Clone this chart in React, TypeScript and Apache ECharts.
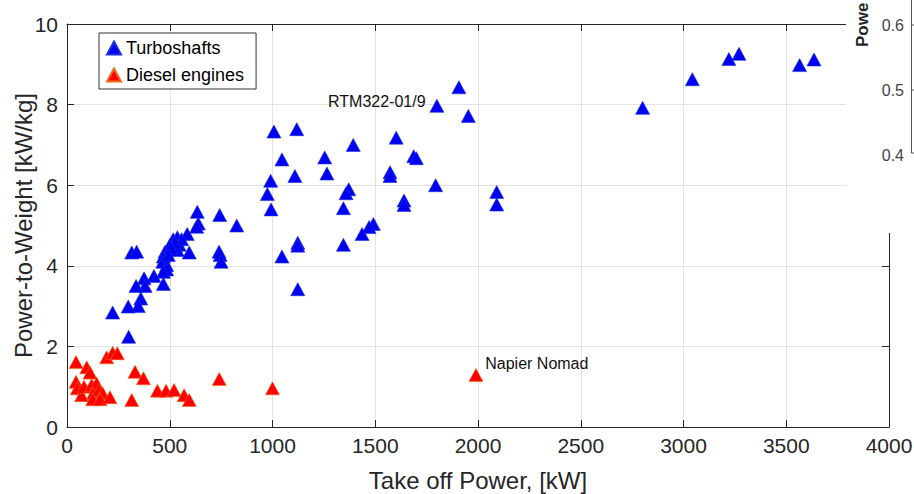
import React, { useEffect, useRef } from "react";
import * as echarts from "echarts";

// Take-off power [kW], power-to-weight [kW/kg]
const turboshaftPower = [
  1907, 1800, 1953, 1007, 1118, 1393, 1602, 1046, 1254, 1687, 1700, 1109, 1265, 1572, 1572,
  991, 975, 1794, 1371, 1358, 993, 1345, 2091, 2091, 1640, 1640, 1491, 1470, 1436, 1123,
  1123, 1345, 1046, 1123,
  2801, 3043, 3221, 3270, 3565, 3635,
  634, 743, 826, 639, 631, 585, 517, 537, 558, 546, 501, 537, 595, 740, 745, 750, 477, 469,
  466, 485, 485, 469, 423, 375, 380, 336, 469, 359, 347, 298, 315, 339, 222, 300, 525, 505, 493,
];
const turboshaftPW = [
  8.43, 7.97, 7.72, 7.33, 7.39, 7.0, 7.18, 6.64, 6.69, 6.72, 6.67, 6.23, 6.29, 6.32, 6.23,
  6.11, 5.78, 6.0, 5.9, 5.8, 5.4, 5.43, 5.83, 5.52, 5.62, 5.51, 5.04, 4.96, 4.79, 4.57,
  4.5, 4.52, 4.23, 3.42,
  7.92, 8.63, 9.13, 9.26, 8.98, 9.12,
  5.34, 5.26, 5.0, 5.05, 4.97, 4.79, 4.66, 4.71, 4.66, 4.52, 4.52, 4.39, 4.33, 4.35, 4.27, 4.1, 4.35, 4.23,
  4.1, 4.02, 3.91, 3.85, 3.75, 3.69, 3.5, 3.5, 3.55, 3.19, 3.0, 2.99, 4.33, 4.35, 2.84, 2.24, 4.58, 4.45, 4.27,
];
const dieselPower = [
  44, 193, 222, 245, 96, 112, 331, 372, 44, 50, 71, 83, 120, 144, 128, 157, 173, 125, 161,
  209, 315, 440, 482, 521, 570, 595, 741, 1000, 1990,
];
const dieselPW = [
  1.61, 1.73, 1.84, 1.83, 1.48, 1.35, 1.37, 1.21, 1.12, 0.96, 0.79, 1.0, 1.04, 1.08, 0.84, 0.92, 0.84, 0.69, 0.69,
  0.74, 0.67, 0.9, 0.9, 0.92, 0.79, 0.67, 1.19, 0.96, 1.29,
];
const seriesNames = ["Turboshafts", "Diesel engines"];
const xTicks = { min: 0, max: 4000, interval: 500 };
const yTicks = { min: 0, max: 10, interval: 2 };
const insetTickLabels = ["0.6", "0.5", "0.4"];
const rtmLabel = "RTM322-01/9";
const napierLabel = "Napier Nomad";

const FONT = "'Liberation Sans', Arial, Helvetica, sans-serif";

export default function App() {
  const ref = useRef<HTMLDivElement>(null);
  useEffect(() => {
    if (!ref.current) return;
    const chart = echarts.init(ref.current, undefined, { renderer: "svg" });

    const turboData = turboshaftPower.map((p, i) => {
      const item: any = { value: [p, turboshaftPW[i]] };
      if (p === 1800 && turboshaftPW[i] === 7.97) {
        item.label = {
          show: true,
          formatter: rtmLabel,
          position: "left",
          distance: 4,
          offset: [0, -4],
          fontSize: 16,
          color: "#111",
          fontFamily: FONT,
        };
      }
      return item;
    });
    const dieselData = dieselPower.map((p, i) => {
      const item: any = { value: [p, dieselPW[i]] };
      if (p === 1990) {
        item.label = {
          show: true,
          formatter: napierLabel,
          position: "right",
          distance: 2,
          offset: [0, -12],
          fontSize: 16,
          color: "#111",
          fontFamily: FONT,
        };
      }
      return item;
    });

    const mkLine = () => ({ show: true, onZero: false, lineStyle: { color: "#262626", width: 1 } });
    const mkTicks = () => ({ show: true, inside: true, length: 7, lineStyle: { color: "#262626", width: 1 } });
    const fmt = (v: number) => String(v);

    chart.setOption({
      animation: false,
      textStyle: { fontFamily: FONT },
      grid: { left: 67, right: 25, top: 24, bottom: 67, containLabel: false, outerBoundsMode: "none" },
      legend: {
        data: seriesNames.map((n) => ({ name: n, icon: "triangle" })),
        orient: "vertical",
        left: 99,
        top: 33,
        borderColor: "#333",
        borderWidth: 1,
        padding: [6, 12, 5, 7],
        itemWidth: 14,
        itemHeight: 13,
        itemGap: 9,
        textStyle: { fontSize: 18, color: "#000", fontFamily: FONT },
        backgroundColor: "#fff",
      },
      xAxis: [
        {
          type: "value",
          ...xTicks,
          name: "Take off Power, [kW]",
          nameLocation: "middle",
          nameGap: 41,
          nameTextStyle: { fontSize: 24, color: "#262626", fontFamily: FONT },
          axisLine: mkLine(),
          axisTick: mkTicks(),
          axisLabel: { fontSize: 21, color: "#262626", margin: 8, fontFamily: FONT, formatter: fmt },
          splitLine: { show: true, lineStyle: { color: "#e3e3e3", width: 1 } },
        },
        {
          type: "value",
          position: "top",
          ...xTicks,
          axisLine: mkLine(),
          axisTick: mkTicks(),
          axisLabel: { show: false },
          splitLine: { show: false },
        },
      ],
      yAxis: [
        {
          type: "value",
          ...yTicks,
          name: "Power-to-Weight [kW/kg]",
          nameLocation: "middle",
          nameGap: 32,
          nameMoveOverlap: false,
          nameTextStyle: { fontSize: 24, color: "#262626", fontFamily: FONT },
          axisLine: mkLine(),
          axisTick: mkTicks(),
          axisLabel: { fontSize: 21, color: "#262626", margin: 9, fontFamily: FONT, formatter: fmt },
          splitLine: { show: true, lineStyle: { color: "#e3e3e3", width: 1 } },
        },
        {
          type: "value",
          position: "right",
          ...yTicks,
          axisLine: mkLine(),
          axisTick: mkTicks(),
          axisLabel: { show: false },
          splitLine: { show: false },
        },
      ],
      series: [
        {
          name: seriesNames[0],
          type: "scatter",
          symbol: "triangle",
          symbolSize: [14, 13],
          itemStyle: { color: "#0000f2", borderColor: "#1a30d8", borderWidth: 0.6, opacity: 1 },
          data: turboData,
          z: 3,
        },
        {
          name: seriesNames[1],
          type: "scatter",
          symbol: "triangle",
          symbolSize: [14, 13],
          itemStyle: { color: "#ff0000", borderColor: "#f06a1a", borderWidth: 0.6, opacity: 1 },
          data: dieselData,
          z: 4,
        },
      ],
      graphic: [
        {
          type: "group",
          z: 100,
          children: [
            { type: "rect", shape: { x: 846, y: 0, width: 70, height: 233 }, style: { fill: "#fff" }, z: 100 },
            {
              type: "text",
              x: 862,
              y: 47,
              rotation: Math.PI / 2,
              style: {
                text: "Powe",
                font: `bold 17px ${FONT}`,
                fill: "#262626",
                align: "left",
                verticalAlign: "middle",
              },
              z: 101,
            },
            ...insetTickLabels.map((t, i) => ({
              type: "text",
              x: 904,
              y: 25 + i * 65,
              style: {
                text: t,
                font: `16px ${FONT}`,
                fill: "#444",
                align: "right",
                verticalAlign: "middle",
              },
              z: 101,
            })),
            { type: "line", shape: { x1: 911.5, y1: 0, x2: 911.5, y2: 153 }, style: { stroke: "#555", lineWidth: 1 }, z: 101 },
            { type: "line", shape: { x1: 911.5, y1: 25, x2: 914, y2: 25 }, style: { stroke: "#555", lineWidth: 1 }, z: 101 },
            { type: "line", shape: { x1: 911.5, y1: 90, x2: 914, y2: 90 }, style: { stroke: "#555", lineWidth: 1 }, z: 101 },
            { type: "line", shape: { x1: 911.5, y1: 153, x2: 914, y2: 153 }, style: { stroke: "#555", lineWidth: 1 }, z: 101 },
          ],
        },
      ],
    });
    return () => chart.dispose();
  }, []);

  return (
    <div
      ref={ref}
      style={{ position: "absolute", left: 0, top: 0, width: 914, height: 494, background: "#fff" }}
    />
  );
}
